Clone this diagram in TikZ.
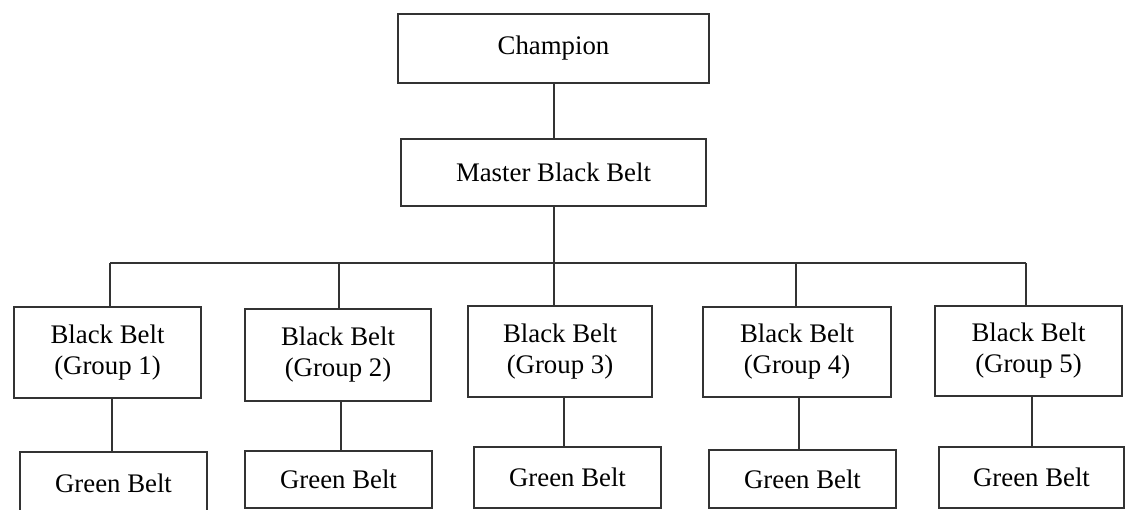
\documentclass[tikz,border=0pt]{standalone}
\usepackage{fontspec}
\setmainfont{Liberation Serif}
\begin{document}
\begin{tikzpicture}[x=1pt,y=-1pt,
  box/.style={draw=black!80, line width=1.8pt, rectangle, inner sep=0pt, align=center,
    font=\fontsize{26.8}{31}\selectfont, text=black},
  link/.style={draw=black!80, line width=1.8pt}]
\useasboundingbox (0,0) rectangle (1125,510);
\node[box, minimum width=311pt, minimum height=69pt] (champ) at (553.5,48.5) {Champion};
\node[box, minimum width=305pt, minimum height=67pt] (mbb) at (553.5,172.5) {Master Black Belt};
\node[box, minimum width=187pt, minimum height=91pt] (b1) at (107.5,352.5) {Black Belt\\(Group 1)};
\node[box, minimum width=186pt, minimum height=92pt] (b2) at (338,355) {Black Belt\\(Group 2)};
\node[box, minimum width=184pt, minimum height=91pt] (b3) at (560,351.5) {Black Belt\\(Group 3)};
\node[box, minimum width=188pt, minimum height=90pt] (b4) at (797,352) {Black Belt\\(Group 4)};
\node[box, minimum width=187pt, minimum height=90pt] (b5) at (1028.5,351) {Black Belt\\(Group 5)};
\node[box, minimum width=187pt, minimum height=62pt] (g1) at (113.5,483) {Green Belt};
\node[box, minimum width=187pt, minimum height=57pt] (g2) at (338.5,479.5) {Green Belt};
\node[box, minimum width=187pt, minimum height=61pt] (g3) at (567.5,477.5) {Green Belt};
\node[box, minimum width=187pt, minimum height=58pt] (g4) at (802.5,479) {Green Belt};
\node[box, minimum width=185pt, minimum height=61pt] (g5) at (1031.5,477.5) {Green Belt};
% bus drop points
\coordinate (bus) at (554,263);
\coordinate (d1) at (110,263);
\coordinate (d2) at (339,263);
\coordinate (d3) at (554,263);
\coordinate (d4) at (796,263);
\coordinate (d5) at (1026,263);
% lower link x positions
\coordinate (x1) at (112,0);
\coordinate (x2) at (341,0);
\coordinate (x3) at (564,0);
\coordinate (x4) at (799,0);
\coordinate (x5) at (1032,0);
\draw[link] (champ.south -| bus) -- (mbb.north -| bus);
\draw[link] (mbb.south -| bus) -- (bus);
\draw[link] (d1) -- (d5);
\draw[link] (d1) -- (d1 |- b1.north);
\draw[link] (d2) -- (d2 |- b2.north);
\draw[link] (d3) -- (d3 |- b3.north);
\draw[link] (d4) -- (d4 |- b4.north);
\draw[link] (d5) -- (d5 |- b5.north);
\draw[link] (b1.south -| x1) -- (g1.north -| x1);
\draw[link] (b2.south -| x2) -- (g2.north -| x2);
\draw[link] (b3.south -| x3) -- (g3.north -| x3);
\draw[link] (b4.south -| x4) -- (g4.north -| x4);
\draw[link] (b5.south -| x5) -- (g5.north -| x5);
\end{tikzpicture}
\end{document}
